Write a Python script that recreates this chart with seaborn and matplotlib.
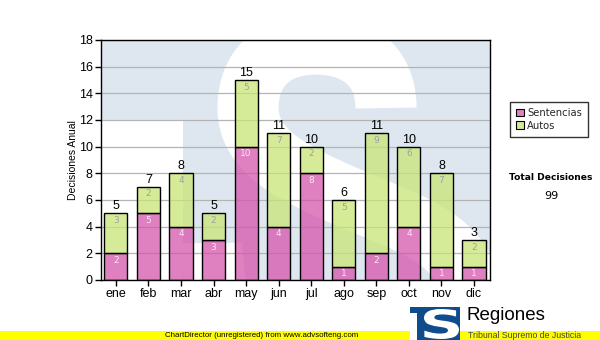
import matplotlib
matplotlib.use("Agg")
import matplotlib.pyplot as plt
import numpy as np
import pandas as pd
import seaborn as sns
from matplotlib.patches import Rectangle, PathPatch, Patch
from matplotlib.path import Path
from matplotlib.textpath import TextPath
from matplotlib.font_manager import FontProperties
from matplotlib.transforms import Affine2D
from matplotlib.colors import to_rgb

# Monthly decisions
meses = ["ene", "feb", "mar", "abr", "may", "jun", "jul", "ago", "sep", "oct", "nov", "dic"]
sentencias = [2, 5, 4, 3, 10, 4, 8, 1, 2, 4, 1, 1]
autos = [3, 2, 4, 2, 5, 7, 2, 5, 9, 6, 7, 2]
y_ticks = [0, 2, 4, 6, 8, 10, 12, 14, 16, 18]
total_decisiones = 99

PINK = "#d555ab"
GREEN = "#c8e575"
BAR_ALPHA = 0.75
WM_BLUE = "#dee7f0"
LOGO_BLUE = "#0f4c8c"

sns.set_theme(style="white")
plt.rcParams["font.family"] = ["Liberation Sans", "DejaVu Sans"]

W, H = 600, 340
fig = plt.figure(figsize=(W / 100, H / 100), dpi=100)
fig.patch.set_facecolor("white")


def fx(px):
    return px / W


def fy(py):
    return 1 - py / H


# pixel (from top-left) -> figure fraction
pix = Affine2D().scale(1 / W, -1 / H).translate(0, 1)

ax = fig.add_axes([fx(101), fy(280), fx(490) - fx(101), fy(40) - fy(280)])

# faded emblem behind the plot area: blue field, white corner, white "S" stroke
ax.add_patch(Rectangle((0, 0), 1, 1, transform=ax.transAxes,
                       facecolor=WM_BLUE, edgecolor="none", zorder=0))
ax.add_patch(Rectangle((0, 0), 0.211, 0.667, transform=ax.transAxes,
                       facecolor="white", edgecolor="none", zorder=0.1))

verts = [
    (386, 108),
    (386, 62), (352, 44), (316, 44),
    (272, 44), (248, 70), (248, 108),
    (248, 150), (290, 172), (345, 196),
    (410, 224), (470, 240), (470, 300),
    (470, 345), (420, 355), (330, 355),
    (250, 355), (212, 330), (212, 243),
]
codes = [Path.MOVETO] + [Path.CURVE4] * 18
s_stroke = PathPatch(Path(verts, codes), transform=pix + fig.transFigure,
                     facecolor="none", edgecolor="white", linewidth=44,
                     capstyle="butt", joinstyle="round", zorder=0.2)
ax.add_artist(s_stroke)

df = pd.DataFrame({"mes": meses, "Sentencias": sentencias, "Autos": autos})

bar_kw = dict(width=0.71, edgecolor="black", linewidth=1.0,
              saturation=1, errorbar=None, zorder=2)
sns.barplot(data=df, x="mes", y="Sentencias", color=PINK, ax=ax, **bar_kw)
sns.barplot(data=df, x="mes", y="Autos", color=GREEN, bottom=sentencias, ax=ax, **bar_kw)
# translucent fills, solid outlines
for p in ax.patches:
    if p.get_zorder() == 2:
        fc = p.get_facecolor()
        p.set_alpha(None)
        p.set_facecolor((fc[0], fc[1], fc[2], BAR_ALPHA))
        p.set_edgecolor((0, 0, 0, 1))

totales = [s + a for s, a in zip(sentencias, autos)]
for i, (s, a, t) in enumerate(zip(sentencias, autos, totales)):
    ax.annotate(str(s), xy=(i, s), xytext=(0, -7), textcoords="offset pixels",
                ha="center", va="center", fontsize=6.5, color="#fbe6f4",
                family="DejaVu Sans", zorder=5)
    ax.annotate(str(a), xy=(i, t), xytext=(0, -7), textcoords="offset pixels",
                ha="center", va="center", fontsize=6.5, color="#a0a0a0",
                family="DejaVu Sans", zorder=5)
    ax.annotate(str(t), xy=(i, t), xytext=(0, 1), textcoords="offset pixels",
                ha="center", va="bottom", fontsize=9, color="black", zorder=5)

ax.set_xlim(-0.455, 11.49)
ax.set_ylim(0, 18)
ax.set_yticks(y_ticks)
ax.set_axisbelow(True)
ax.yaxis.grid(True, color="#b4b4b4", linewidth=0.9, zorder=0.5)
ax.xaxis.grid(False)
for sp in ax.spines.values():
    sp.set_visible(True)
    sp.set_color("black")
    sp.set_linewidth(1.0)
ax.tick_params(axis="both", which="both", bottom=True, left=True, direction="out",
               length=4, width=1, color="black", labelsize=9, pad=2, labelcolor="black")
ax.set_xlabel("")
ax.set_ylabel("")
fig.text(fx(73), fy(160), "Decisiones Anual", rotation=90, ha="center", va="center",
         fontsize=7.5, color="black")

# legend
def swatch(c):
    r, g, b = to_rgb(c)
    return (r, g, b, BAR_ALPHA)


handles = [Patch(facecolor=swatch(PINK), edgecolor="black", linewidth=0.8, label="Sentencias"),
           Patch(facecolor=swatch(GREEN), edgecolor="black", linewidth=0.8, label="Autos")]
leg = fig.legend(handles=handles, loc="upper left", bbox_to_anchor=(fx(510), fy(102)),
                 frameon=True, fancybox=False, prop=FontProperties(family="DejaVu Sans", size=7.2),
                 handlelength=0.8, handleheight=0.8, handletextpad=0.3, borderpad=0.6,
                 labelspacing=0.25, borderaxespad=0)
leg.get_frame().set_edgecolor("black")
leg.get_frame().set_linewidth(1.0)

fig.text(fx(551), fy(178), "Total Decisiones", ha="center", va="center", fontsize=6.6,
         fontweight="bold", family="DejaVu Sans", color="black")
fig.text(fx(551), fy(196), str(total_decisiones), ha="center", va="center", fontsize=8,
         family="DejaVu Sans", color="black")

# footer band
fig.patches.append(Rectangle((0, 0), 1, 9 / H, transform=fig.transFigure,
                             facecolor="#ffff00", edgecolor="none", zorder=1))
fig.text(fx(262), fy(335.5), "ChartDirector (unregistered) from www.advsofteng.com",
         ha="center", va="center", fontsize=5.7, color="black", zorder=2)

# small emblem at bottom right
tp = TextPath((0, 0), "S", size=1, prop=FontProperties(family="DejaVu Sans", weight="bold"))
bb = tp.get_extents()
s_small = (Affine2D().translate(-bb.x0, -bb.y0)
           .scale((fx(459) - fx(424)) / bb.width, (fy(309) - fy(339)) / bb.height)
           .translate(fx(424), fy(339))).transform_path(tp)
fig.patches.append(Rectangle((fx(410), 0), fx(460) - fx(410), fy(307), transform=fig.transFigure,
                             facecolor=LOGO_BLUE, edgecolor="none", zorder=3))
fig.patches.append(Rectangle((fx(410), 0), fx(417) - fx(410), fy(313), transform=fig.transFigure,
                             facecolor="white", edgecolor="none", zorder=3.1))
fig.patches.append(PathPatch(s_small, transform=fig.transFigure,
                             facecolor="white", edgecolor="none", zorder=3.2))
fig.text(fx(467), fy(316), "Regiones", ha="left", va="center", fontsize=13.5,
         color="black", zorder=4)
fig.text(fx(468), fy(335), "Tribunal Supremo de Justicia", ha="left", va="center",
         fontsize=6.3, color="#444444", zorder=4)

fig.savefig("out.png", dpi=100)
